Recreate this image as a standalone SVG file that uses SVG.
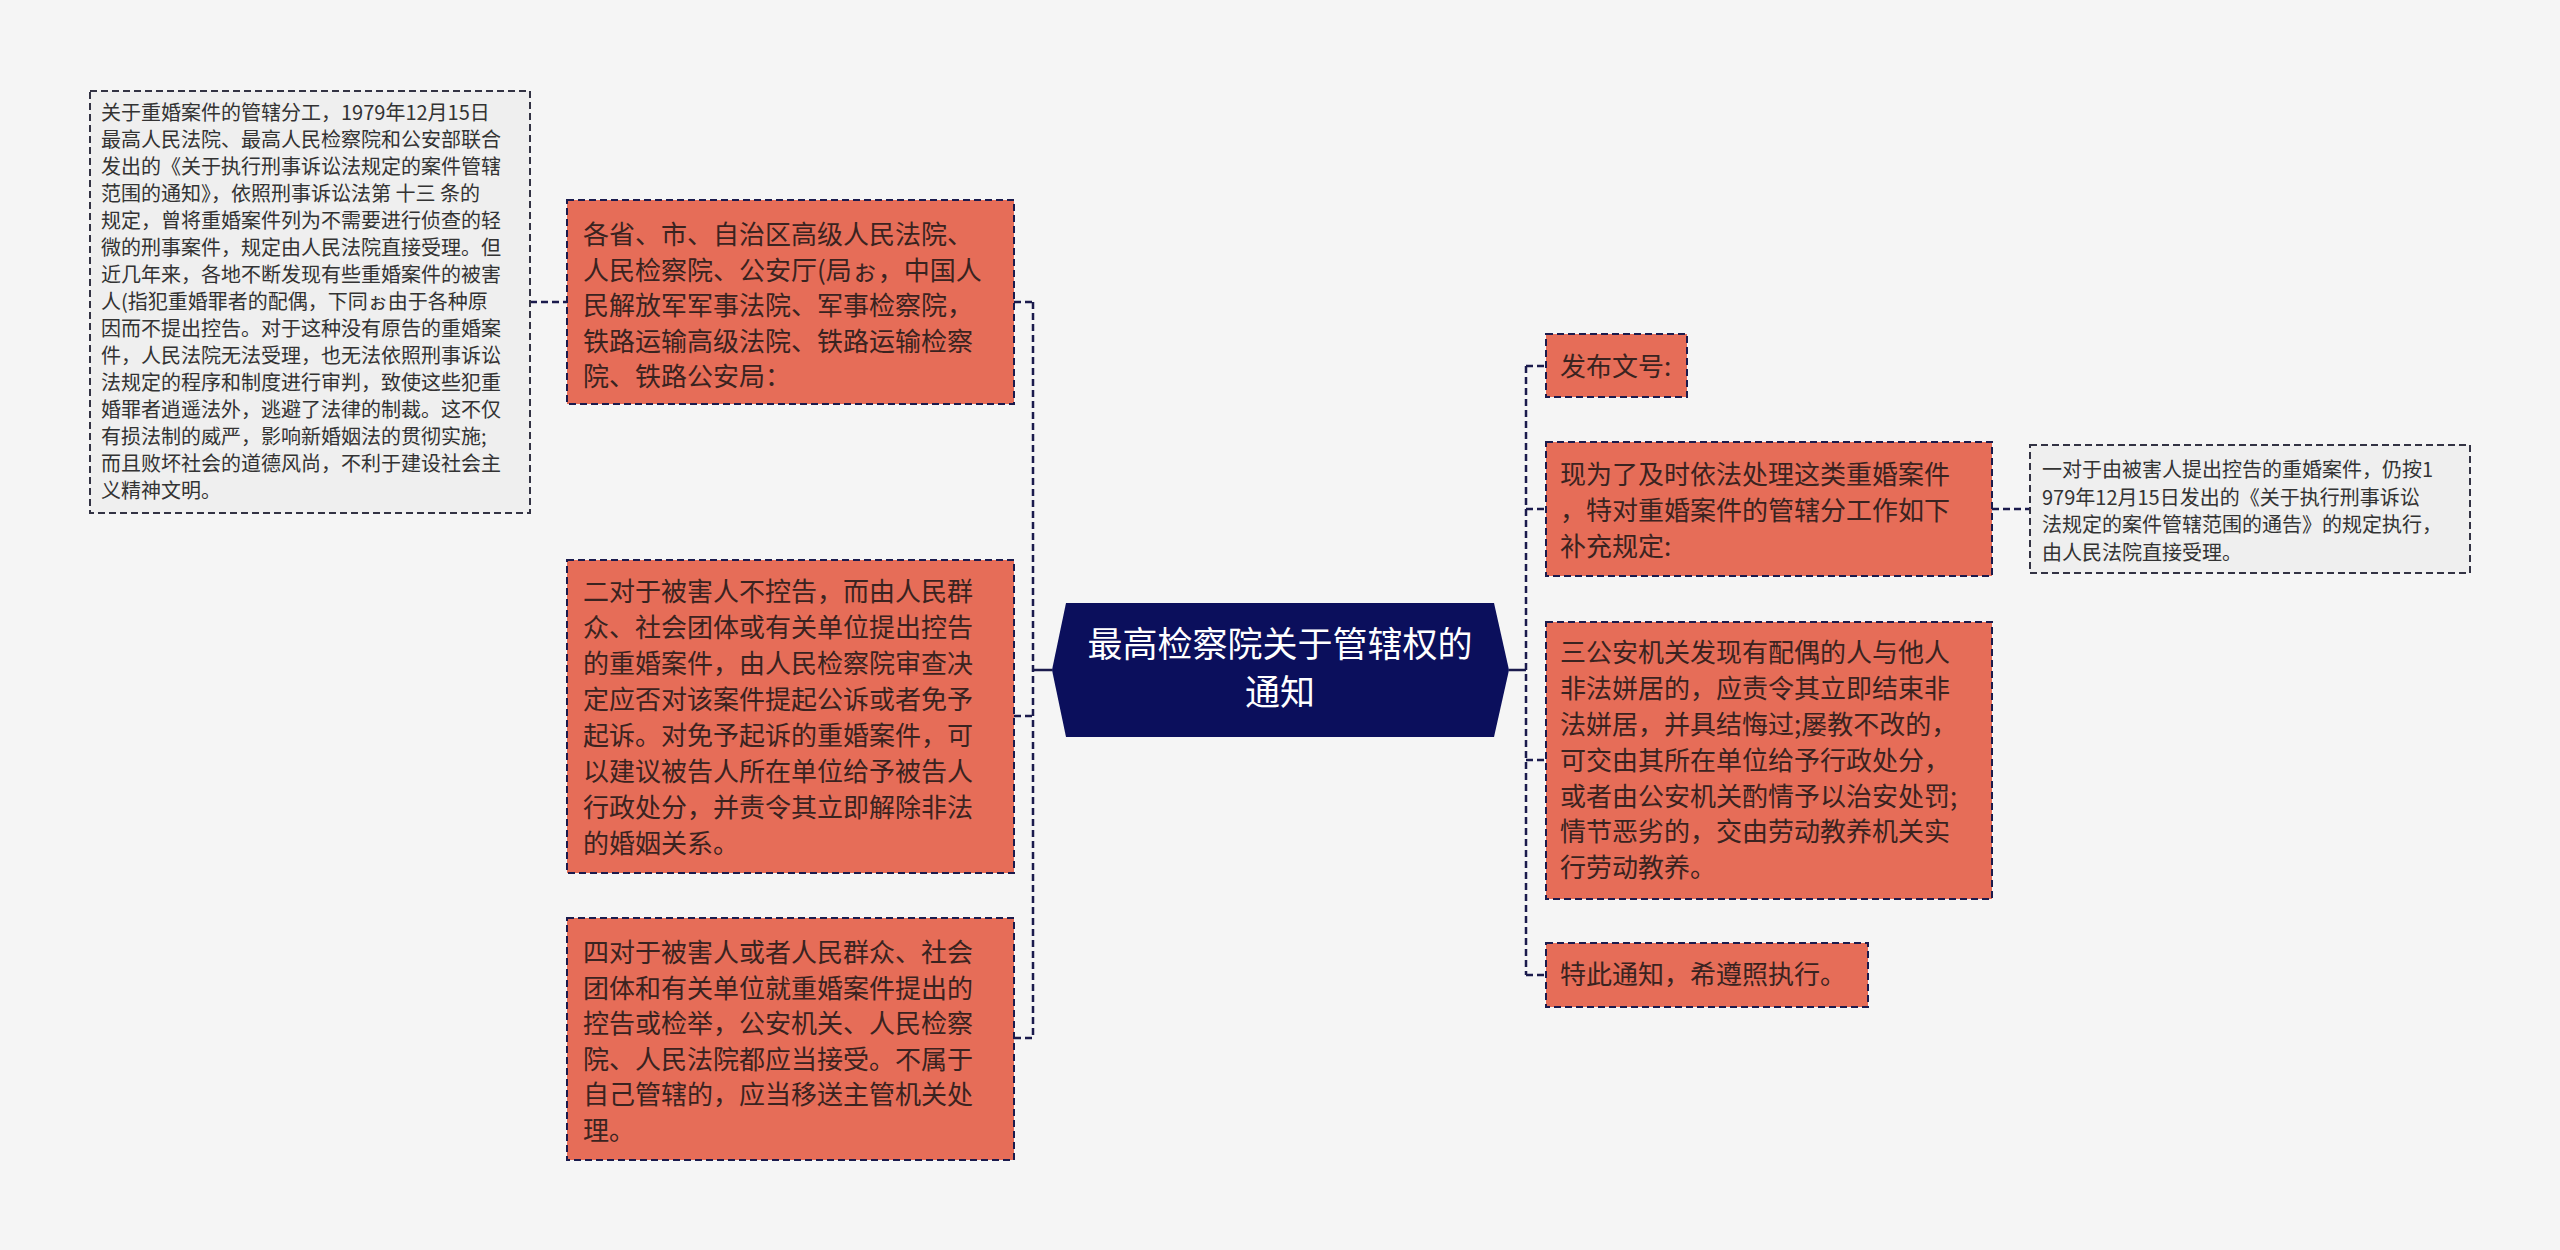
<svg xmlns="http://www.w3.org/2000/svg" width="2560" height="1250" viewBox="0 0 2560 1250">
<style>
  .bg { fill: #f5f5f5; }
  .box { fill: #e66d58; stroke: #1b1b4d; stroke-width: 2; stroke-dasharray: 7 4; }
  .note { fill: #efefef; stroke: #333344; stroke-width: 2; stroke-dasharray: 7 4; }
  .t { font-family: "Noto Sans CJK SC", "Noto Sans", sans-serif; font-size: 26px; fill: #3a2320; }
  .tn { font-family: "Noto Sans CJK SC", "Noto Sans", sans-serif; font-size: 20px; fill: #333333; }
  .tc { font-family: "Noto Sans CJK SC", "Noto Sans", sans-serif; font-size: 35px; fill: #ffffff; text-anchor: middle; }
  .conn { fill: none; stroke: #1b1b4d; stroke-width: 2.5; stroke-dasharray: 7 4; }
  .connSolid { fill: none; stroke: #1b1b4d; stroke-width: 2.5; }
</style>
<rect class="bg" x="0" y="0" width="2560" height="1250"/>

<g id="connectors">
  <line class="connSolid" x1="1033" y1="670" x2="1052" y2="670"/>
  <line class="connSolid" x1="1509" y1="670" x2="1526" y2="670"/>
  <line class="conn" x1="1033" y1="302" x2="1033" y2="1038"/>
  <line class="conn" x1="1014" y1="302" x2="1033" y2="302"/>
  <line class="conn" x1="1014" y1="716" x2="1033" y2="716"/>
  <line class="conn" x1="1014" y1="1038" x2="1033" y2="1038"/>
  <line class="conn" x1="530" y1="302" x2="567" y2="302"/>
  <line class="conn" x1="1526" y1="366" x2="1526" y2="975"/>
  <line class="conn" x1="1526" y1="366" x2="1546" y2="366"/>
  <line class="conn" x1="1526" y1="509" x2="1546" y2="509"/>
  <line class="conn" x1="1526" y1="760" x2="1546" y2="760"/>
  <line class="conn" x1="1526" y1="975" x2="1546" y2="975"/>
  <line class="conn" x1="1992" y1="509" x2="2030" y2="509"/>
</g>

<g id="center">
  <polygon points="1066,603 1494,603 1509,670 1494,737 1066,737 1052,670" fill="#0b0f5c"/>
  <text class="tc"><tspan x="1280" y="657">最高检察院关于管辖权的</tspan><tspan x="1280" y="705">通知</tspan></text>
</g>

<g id="note-left">
  <rect class="note" x="90" y="91" width="440" height="422"/>
  <text class="tn">
    <tspan x="101" y="120">关于重婚案件的管辖分工，1979年12月15日</tspan>
    <tspan x="101" y="147">最高人民法院、最高人民检察院和公安部联合</tspan>
    <tspan x="101" y="174">发出的《关于执行刑事诉讼法规定的案件管辖</tspan>
    <tspan x="101" y="201">范围的通知》，依照刑事诉讼法第 十三 条的</tspan>
    <tspan x="101" y="228">规定，曾将重婚案件列为不需要进行侦查的轻</tspan>
    <tspan x="101" y="255">微的刑事案件，规定由人民法院直接受理。但</tspan>
    <tspan x="101" y="282">近几年来，各地不断发现有些重婚案件的被害</tspan>
    <tspan x="101" y="309">人(指犯重婚罪者的配偶，下同ぉ由于各种原</tspan>
    <tspan x="101" y="336">因而不提出控告。对于这种没有原告的重婚案</tspan>
    <tspan x="101" y="363">件，人民法院无法受理，也无法依照刑事诉讼</tspan>
    <tspan x="101" y="390">法规定的程序和制度进行审判，致使这些犯重</tspan>
    <tspan x="101" y="417">婚罪者逍遥法外，逃避了法律的制裁。这不仅</tspan>
    <tspan x="101" y="444">有损法制的威严，影响新婚姻法的贯彻实施;</tspan>
    <tspan x="101" y="471">而且败坏社会的道德风尚，不利于建设社会主</tspan>
    <tspan x="101" y="498">义精神文明。</tspan>
  </text>
</g>

<g id="box-1">
  <rect class="box" x="567" y="200" width="447" height="204"/>
  <text class="t">
    <tspan x="583" y="244">各省、市、自治区高级人民法院、</tspan>
    <tspan x="583" y="280">人民检察院、公安厅(局ぉ，中国人</tspan>
    <tspan x="583" y="315">民解放军军事法院、军事检察院，</tspan>
    <tspan x="583" y="351">铁路运输高级法院、铁路运输检察</tspan>
    <tspan x="583" y="386">院、铁路公安局：</tspan>
  </text>
</g>

<g id="box-2">
  <rect class="box" x="567" y="560" width="447" height="313"/>
  <text class="t">
    <tspan x="583" y="601">二对于被害人不控告，而由人民群</tspan>
    <tspan x="583" y="637">众、社会团体或有关单位提出控告</tspan>
    <tspan x="583" y="673">的重婚案件，由人民检察院审查决</tspan>
    <tspan x="583" y="709">定应否对该案件提起公诉或者免予</tspan>
    <tspan x="583" y="745">起诉。对免予起诉的重婚案件，可</tspan>
    <tspan x="583" y="781">以建议被告人所在单位给予被告人</tspan>
    <tspan x="583" y="817">行政处分，并责令其立即解除非法</tspan>
    <tspan x="583" y="853">的婚姻关系。</tspan>
  </text>
</g>

<g id="box-4">
  <rect class="box" x="567" y="918" width="447" height="242"/>
  <text class="t">
    <tspan x="583" y="962">四对于被害人或者人民群众、社会</tspan>
    <tspan x="583" y="998">团体和有关单位就重婚案件提出的</tspan>
    <tspan x="583" y="1033">控告或检举，公安机关、人民检察</tspan>
    <tspan x="583" y="1069">院、人民法院都应当接受。不属于</tspan>
    <tspan x="583" y="1104">自己管辖的，应当移送主管机关处</tspan>
    <tspan x="583" y="1140">理。</tspan>
  </text>
</g>

<g id="box-fabu">
  <rect class="box" x="1546" y="334" width="141" height="63"/>
  <text class="t"><tspan x="1560" y="376">发布文号:</tspan></text>
</g>

<g id="box-xianwei">
  <rect class="box" x="1546" y="442" width="446" height="134"/>
  <text class="t">
    <tspan x="1560" y="484">现为了及时依法处理这类重婚案件</tspan>
    <tspan x="1560" y="520">，特对重婚案件的管辖分工作如下</tspan>
    <tspan x="1560" y="556">补充规定:</tspan>
  </text>
</g>

<g id="note-right">
  <rect class="note" x="2030" y="445" width="440" height="128"/>
  <text class="tn">
    <tspan x="2042" y="477">一对于由被害人提出控告的重婚案件，仍按1</tspan>
    <tspan x="2042" y="505">979年12月15日发出的《关于执行刑事诉讼</tspan>
    <tspan x="2042" y="532">法规定的案件管辖范围的通告》的规定执行，</tspan>
    <tspan x="2042" y="560">由人民法院直接受理。</tspan>
  </text>
</g>

<g id="box-3">
  <rect class="box" x="1546" y="622" width="446" height="277"/>
  <text class="t">
    <tspan x="1560" y="662">三公安机关发现有配偶的人与他人</tspan>
    <tspan x="1560" y="698">非法姘居的，应责令其立即结束非</tspan>
    <tspan x="1560" y="734">法姘居，并具结悔过;屡教不改的，</tspan>
    <tspan x="1560" y="770">可交由其所在单位给予行政处分，</tspan>
    <tspan x="1560" y="806">或者由公安机关酌情予以治安处罚;</tspan>
    <tspan x="1560" y="841">情节恶劣的，交由劳动教养机关实</tspan>
    <tspan x="1560" y="877">行劳动教养。</tspan>
  </text>
</g>

<g id="box-tezhi">
  <rect class="box" x="1546" y="943" width="322" height="64"/>
  <text class="t"><tspan x="1560" y="984">特此通知，希遵照执行。</tspan></text>
</g>
</svg>
